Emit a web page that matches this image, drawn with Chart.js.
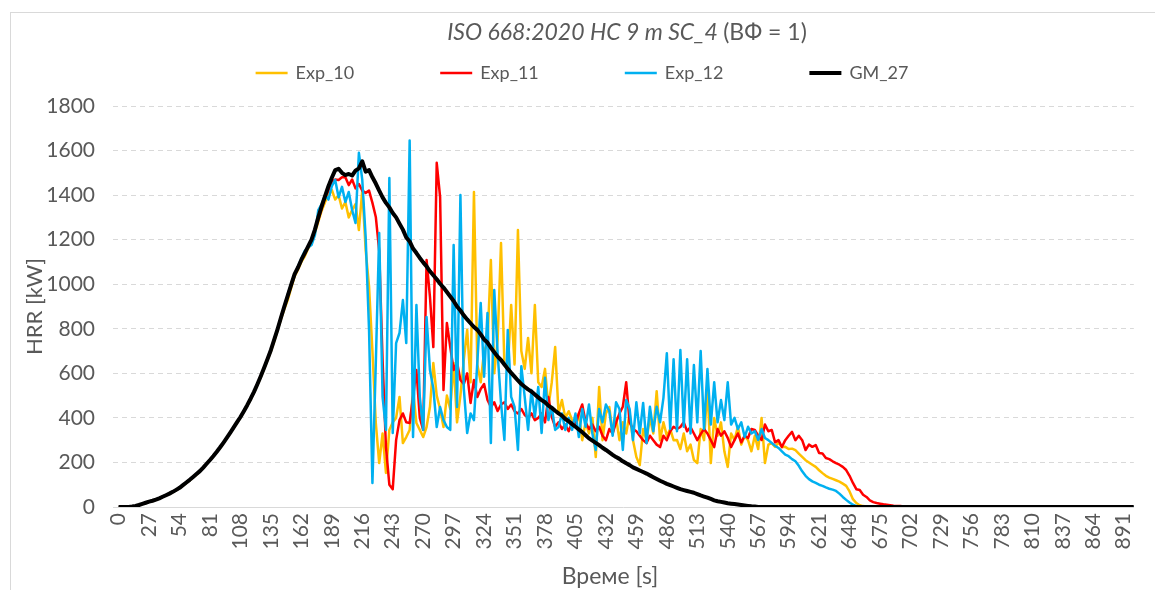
<!DOCTYPE html>
<html>
<head>
<meta charset="utf-8">
<title>ISO 668:2020 HC 9 m SC_4 (ВФ = 1)</title>
<script src="https://cdn.jsdelivr.net/npm/chart.js@4.4.1/dist/chart.umd.min.js"></script>
<style>
  html, body { margin: 0; padding: 0; background: #ffffff; }
  canvas { display: block; }
</style>
</head>
<body>
<canvas id="hrr" width="1155" height="590"></canvas>
<script>
// Heading and axis texts
const titleMain = 'ISO 668:2020 HC 9 m SC_4';
const titleNote = '(ВФ = 1)';
const xTitle = 'Време [s]';
const yTitle = 'HRR [kW]';

// Time axis: one sample every 3 s from 0 to 900 s
const times = Array.from({ length: 301 }, (_, i) => i * 3);

// Labelled time ticks
const xTicks = [0, 27, 54, 81, 108, 135, 162, 189, 216, 243, 270, 297, 324, 351, 378, 405, 432,
  459, 486, 513, 540, 567, 594, 621, 648, 675, 702, 729, 756, 783, 810, 837, 864, 891];

// Series names
const seriesNames = ['Exp_10', 'Exp_11', 'Exp_12', 'GM_27'];

// Heat release rate, kW (rows of 10 samples = 30 s)
const exp10 = [
  0, 0, 0, 0, 2, 5, 9, 13, 18, 23,
  27, 32, 38, 45, 52, 59, 67, 76, 85, 96,
  108, 120, 133, 146, 160, 176, 193, 210, 228, 247,
  266, 287, 309, 332, 355, 378, 402, 428, 455, 483,
  514, 548, 583, 620, 660, 700, 745, 795, 845, 890,
  930, 985, 1035, 1065, 1100, 1125, 1160, 1185, 1230, 1280,
  1330, 1369, 1400, 1423, 1380, 1400, 1340, 1369, 1300, 1333,
  1360, 1243, 1423, 1154, 990, 700, 377, 197, 330, 153,
  346, 380, 400, 494, 287, 314, 346, 525, 377, 346,
  314, 359, 450, 646, 500, 440, 359, 500, 440, 646,
  380, 500, 660, 795, 560, 1414, 640, 560, 700, 736,
  1109, 600, 750, 1185, 640, 620, 907, 640, 1243, 700,
  620, 759, 600, 907, 560, 539, 620, 449, 560, 718,
  420, 480, 400, 430, 390, 360, 420, 300, 380, 330,
  400, 224, 539, 300, 420, 449, 332, 400, 300, 380,
  330, 420, 300, 224, 188, 350, 300, 400, 330, 520,
  300, 380, 320, 350, 300, 301, 260, 330, 250, 280,
  211, 197, 350, 300, 539, 197, 400, 320, 380, 250,
  180, 330, 300, 360, 280, 320, 300, 250, 320, 260,
  400, 197, 280, 287, 270, 290, 269, 270, 260, 262,
  255, 240, 225, 210, 200, 190, 180, 165, 152, 140,
  132, 126, 120, 114, 105, 95, 70, 35, 18, 8,
  4, 2, 1, 0, 0, 0, 0, 0, 0, 0,
  0, 0, 0, 0, 0, 0, 0, 0, 0, 0,
  0, 0, 0, 0, 0, 0, 0, 0, 0, 0,
  0, 0, 0, 0, 0, 0, 0, 0, 0, 0,
  0, 0, 0, 0, 0, 0, 0, 0, 0, 0,
  0, 0, 0, 0, 0, 0, 0, 0, 0, 0,
  0, 0, 0, 0, 0, 0, 0, 0, 0, 0,
  0, 0, 0, 0, 0, 0, 0, 0, 0, 0,
  0
];

const exp11 = [
  0, 0, 0, 0, 2, 5, 9, 14, 19, 24,
  28, 33, 39, 46, 53, 60, 68, 77, 86, 98,
  110, 122, 135, 148, 161, 177, 194, 211, 229, 248,
  268, 289, 311, 334, 357, 381, 404, 430, 457, 486,
  517, 551, 587, 625, 664, 705, 752, 800, 852, 902,
  945, 995, 1040, 1072, 1108, 1135, 1168, 1195, 1240, 1290,
  1340, 1390, 1420, 1460, 1470, 1468, 1480, 1480, 1445, 1470,
  1430, 1450, 1420, 1410, 1420, 1365, 1302, 1150, 660, 269,
  100, 80, 300, 390, 420, 380, 377, 494, 615, 400,
  346, 1109, 943, 718, 1545, 1392, 525, 826, 718, 615,
  650, 570, 552, 600, 467, 570, 494, 530, 552, 480,
  449, 470, 431, 460, 470, 440, 460, 430, 420, 440,
  413, 400, 420, 390, 400, 420, 380, 494, 404, 360,
  380, 350, 370, 340, 380, 370, 420, 460, 380, 350,
  370, 340, 360, 320, 300, 350, 330, 380, 420, 450,
  560, 380, 350, 340, 320, 300, 287, 320, 300, 280,
  269, 320, 300, 340, 360, 350, 359, 380, 340, 359,
  330, 300, 327, 350, 330, 300, 269, 350, 320, 340,
  310, 269, 300, 330, 290, 320, 310, 350, 346, 320,
  301, 370, 340, 346, 290, 300, 269, 300, 320, 337,
  300, 320, 300, 256, 280, 270, 278, 242, 240, 220,
  215, 205, 197, 190, 180, 166, 140, 108, 80, 76,
  55, 45, 30, 22, 18, 15, 12, 10, 8, 6,
  5, 4, 2, 1, 0, 0, 0, 0, 0, 0,
  0, 0, 0, 0, 0, 0, 0, 0, 0, 0,
  0, 0, 0, 0, 0, 0, 0, 0, 0, 0,
  0, 0, 0, 0, 0, 0, 0, 0, 0, 0,
  0, 0, 0, 0, 0, 0, 0, 0, 0, 0,
  0, 0, 0, 0, 0, 0, 0, 0, 0, 0,
  0, 0, 0, 0, 0, 0, 0, 0, 0, 0,
  0
];

const exp12 = [
  0, 0, 0, 0, 2, 5, 9, 14, 19, 24,
  28, 33, 39, 46, 53, 60, 68, 77, 86, 98,
  110, 122, 135, 148, 161, 177, 194, 211, 229, 248,
  268, 289, 311, 334, 357, 381, 404, 430, 457, 486,
  517, 551, 587, 625, 664, 705, 752, 800, 852, 902,
  955, 1000, 1040, 1080, 1115, 1150, 1165, 1176, 1220, 1333,
  1360, 1400, 1380, 1440, 1468, 1390, 1437, 1369, 1414, 1333,
  1275, 1590, 1468, 1212, 795, 108, 646, 1230, 494, 346,
  1477, 332, 736, 781, 929, 736, 1645, 314, 907, 494,
  346, 853, 615, 532, 359, 449, 390, 359, 346, 1176,
  449, 1400, 532, 332, 420, 390, 650, 916, 585, 871,
  287, 974, 690, 467, 301, 795, 494, 449, 256, 632,
  494, 346, 525, 404, 539, 332, 580, 390, 449, 346,
  359, 420, 346, 400, 346, 420, 314, 440, 360, 460,
  330, 256, 440, 380, 460, 431, 320, 470, 440, 256,
  480, 440, 300, 470, 330, 467, 287, 450, 340, 450,
  380, 490, 690, 350, 663, 340, 705, 360, 663, 330,
  637, 380, 700, 350, 620, 370, 560, 380, 480, 390,
  560, 370, 400, 350, 380, 314, 360, 330, 340, 301,
  350, 310, 300, 287, 275, 265, 250, 235, 228, 215,
  205, 185, 160, 140, 125, 115, 108, 100, 95, 88,
  82, 78, 72, 60, 45, 32, 20, 10, 4, 2,
  0, 0, 0, 0, 0, 0, 0, 0, 0, 0,
  0, 0, 0, 0, 0, 0, 0, 0, 0, 0,
  0, 0, 0, 0, 0, 0, 0, 0, 0, 0,
  0, 0, 0, 0, 0, 0, 0, 0, 0, 0,
  0, 0, 0, 0, 0, 0, 0, 0, 0, 0,
  0, 0, 0, 0, 0, 0, 0, 0, 0, 0,
  0, 0, 0, 0, 0, 0, 0, 0, 0, 0,
  0, 0, 0, 0, 0, 0, 0, 0, 0, 0,
  0
];

const gm27 = [
  0, 0, 0, 0, 2, 5, 9, 14, 19, 24,
  28, 33, 39, 46, 53, 60, 68, 77, 86, 98,
  110, 122, 135, 148, 161, 177, 194, 211, 229, 248,
  268, 289, 311, 334, 357, 381, 404, 430, 457, 486,
  517, 551, 587, 625, 664, 705, 752, 800, 852, 902,
  950, 998, 1045, 1075, 1110, 1140, 1170, 1200, 1245, 1300,
  1350, 1395, 1440, 1478, 1512, 1518, 1500, 1490, 1495, 1488,
  1510, 1520, 1552, 1505, 1512, 1480, 1452, 1420, 1390, 1365,
  1345, 1320, 1300, 1272, 1245, 1210, 1192, 1160, 1140, 1118,
  1098, 1080, 1058, 1040, 1022, 1002, 985, 965, 945, 925,
  900, 882, 860, 842, 825, 808, 795, 775, 752, 738,
  715, 695, 675, 660, 640, 620, 602, 585, 568, 552,
  540, 528, 518, 505, 492, 480, 470, 455, 445, 432,
  420, 410, 395, 385, 372, 360, 348, 336, 322, 308,
  298, 288, 278, 266, 256, 245, 234, 224, 216, 205,
  196, 188, 178, 171, 164, 157, 150, 142, 134, 126,
  118, 111, 104, 98, 92, 86, 80, 76, 72, 68,
  64, 58, 52, 47, 42, 36, 30, 26, 23, 20,
  17, 15, 13, 11, 9, 7, 5, 3, 2, 0,
  0, 0, 0, 0, 0, 0, 0, 0, 0, 0,
  0, 0, 0, 0, 0, 0, 0, 0, 0, 0,
  0, 0, 0, 0, 0, 0, 0, 0, 0, 0,
  0, 0, 0, 0, 0, 0, 0, 0, 0, 0,
  0, 0, 0, 0, 0, 0, 0, 0, 0, 0,
  0, 0, 0, 0, 0, 0, 0, 0, 0, 0,
  0, 0, 0, 0, 0, 0, 0, 0, 0, 0,
  0, 0, 0, 0, 0, 0, 0, 0, 0, 0,
  0, 0, 0, 0, 0, 0, 0, 0, 0, 0,
  0, 0, 0, 0, 0, 0, 0, 0, 0, 0,
  0, 0, 0, 0, 0, 0, 0, 0, 0, 0,
  0
];

const seriesValues = [exp10, exp11, exp12, gm27];
const seriesColors = ['#FFC000', '#FF0000', '#00B0F0', '#000000'];
const seriesWidths = [2.5, 2.5, 2.5, 4];

const TEXT = '#595959';
const GRID = '#D9D9D9';
Chart.defaults.font.family = 'Lato, "Open Sans", sans-serif';
Chart.defaults.color = TEXT;

// Outer frame around the whole chart
const framePlugin = {
  id: 'frame',
  beforeDraw(chart) {
    const ctx = chart.ctx;
    ctx.save();
    ctx.strokeStyle = GRID;
    ctx.lineWidth = 1;
    ctx.strokeRect(10.5, 12.5, chart.width + 20, chart.height + 20);
    ctx.restore();
  }
};

// Title with an italic and an upright run, a line-sample legend and the time-axis caption
const headerPlugin = {
  id: 'header',
  afterDraw(chart) {
    const ctx = chart.ctx;
    ctx.save();
    ctx.fillStyle = TEXT;
    ctx.textBaseline = 'middle';
    ctx.textAlign = 'left';

    const italic = 'italic 23px Lato';
    const plain = '23px Lato';
    ctx.font = italic;
    const w1 = ctx.measureText(titleMain + ' ').width;
    ctx.font = plain;
    const w2 = ctx.measureText(titleNote).width;
    const tx = 627 - (w1 + w2) / 2;
    ctx.font = italic;
    ctx.fillText(titleMain + ' ', tx, 33);
    ctx.font = plain;
    ctx.fillText(titleNote, tx + w1, 33);

    ctx.font = '18px Lato';
    const lineLen = 32, textGap = 8, itemGap = 86, ly = 73;
    const items = chart.data.datasets.map(ds => ({
      ds, w: lineLen + textGap + ctx.measureText(ds.label).width
    }));
    const total = items.reduce((s, it) => s + it.w, 0) + itemGap * (items.length - 1);
    let lx = 582 - total / 2;
    items.forEach(({ ds, w }) => {
      ctx.strokeStyle = ds.borderColor;
      ctx.lineWidth = ds.borderWidth;
      ctx.beginPath();
      ctx.moveTo(lx, ly);
      ctx.lineTo(lx + lineLen, ly);
      ctx.stroke();
      ctx.fillText(ds.label, lx + lineLen + textGap, ly);
      lx += w + itemGap;
    });

    ctx.font = '23px Lato';
    ctx.textAlign = 'center';
    ctx.fillText(xTitle, 610, 577);
    ctx.restore();
  }
};

const datasets = seriesNames.map((name, i) => ({
  label: name,
  data: seriesValues[i],
  borderColor: seriesColors[i],
  backgroundColor: seriesColors[i],
  borderWidth: seriesWidths[i],
  pointRadius: 0,
  tension: 0,
  fill: false,
  borderJoinStyle: 'round',
  order: seriesNames.length - 1 - i
}));

new Chart(document.getElementById('hrr'), {
  type: 'line',
  data: { labels: times, datasets },
  options: {
    responsive: false,
    animation: false,
    devicePixelRatio: 1,
    layout: { padding: { top: 106, right: 15, bottom: 0, left: 0 } },
    plugins: {
      legend: { display: false },
      title: { display: false },
      tooltip: { enabled: false }
    },
    scales: {
      x: {
        type: 'linear',
        min: -5,
        max: 900,
        afterBuildTicks: scale => { scale.ticks = xTicks.map(v => ({ value: v })); },
        afterFit: scale => { scale.height = 83; },
        ticks: {
          autoSkip: false,
          minRotation: 90,
          maxRotation: 90,
          padding: 6,
          color: TEXT,
          font: { size: 21 },
          callback: v => String(v)
        },
        grid: { display: true, drawOnChartArea: false, drawTicks: false },
        border: { display: true, color: GRID, width: 1 },
        title: { display: false }
      },
      y: {
        min: 0,
        max: 1800,
        afterFit: scale => { scale.width = 113; },
        ticks: {
          stepSize: 200,
          padding: 18,
          color: TEXT,
          font: { size: 21 },
          callback: v => String(v)
        },
        grid: { color: GRID, lineWidth: 1, drawTicks: false },
        border: { display: false, dash: [5, 4] },
        title: {
          display: true,
          text: yTitle,
          color: TEXT,
          font: { size: 22 },
          padding: { top: 22, bottom: 0 }
        }
      }
    }
  },
  plugins: [framePlugin, headerPlugin]
});
</script>
</body>
</html>
